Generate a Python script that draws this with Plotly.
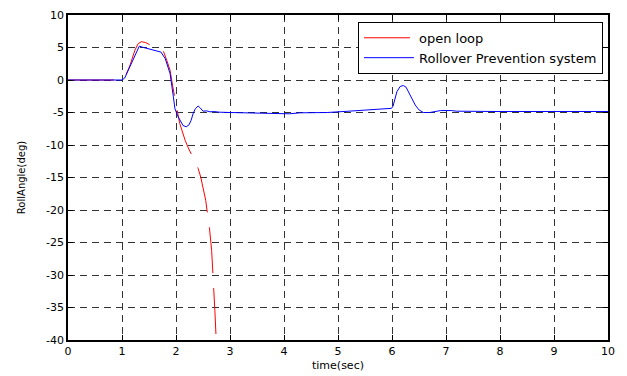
import plotly.graph_objects as go

# Open loop (red)
open_t = [0, 1.0, 1.05, 1.15, 1.24, 1.30, 1.36, 1.44, 1.52, 1.60, 1.70, 1.77, 1.83, 1.89, 1.94,
          1.98, 2.03, 2.07, 2.12, 2.17, 2.22, 2.28, 2.35, 2.41, 2.46, 2.51, 2.55, 2.58, 2.62,
          2.66, 2.69, 2.70, 2.72, 2.74]
open_y = [0, 0, 0.3, 2.3, 4.6, 5.6, 5.9, 5.75, 5.4, 5.1, 4.7, 4.36, 3.0, 1.5, -1.0,
          -3.1, -5.0, -6.7, -8.2, -9.3, -10.3, -11.4, -12.5, -13.6, -15.0, -16.9, -18.5, -20.4, -22.8,
          -26.2, -30.0, -32.3, -35.5, -39.2]

# Rollover prevention system (blue)
rps_t = [0, 1.0, 1.05, 1.18, 1.25, 1.32, 1.40, 1.46, 1.55, 1.67, 1.72, 1.80, 1.89, 1.95, 1.98,
         2.03, 2.07, 2.13, 2.19, 2.24, 2.28, 2.32, 2.36, 2.41, 2.45, 2.50, 2.57, 2.63, 2.70, 2.80,
         3.0, 3.5, 3.9, 4.1, 4.3, 4.8, 5.2, 5.5, 5.99, 6.02, 6.09, 6.15, 6.21, 6.26, 6.30, 6.37,
         6.43, 6.50, 6.58, 6.70, 6.80, 6.90, 7.10, 7.20, 8.0, 10.0]
rps_y = [0, 0, 0.3, 2.6, 4.0, 5.2, 5.0, 4.87, 4.7, 4.5, 4.3, 3.3, 1.0, -2.5, -4.4,
         -5.5, -6.2, -7.0, -7.2, -6.9, -6.2, -5.1, -4.4, -4.0, -4.3, -4.8, -4.75, -4.9, -4.85, -4.95,
         -5.0, -5.05, -5.2, -5.2, -5.05, -5.0, -4.8, -4.6, -4.36, -4.0, -1.8, -1.0, -0.85, -1.1, -1.8, -3.0,
         -3.85, -4.6, -5.0, -5.0, -4.85, -4.7, -4.7, -4.8, -4.85, -4.85]

x_ticks = list(range(0, 11))
y_ticks = list(range(-40, 11, 5))

FONT = "DejaVu Sans, Arial, sans-serif"

fig = go.Figure()
fig.add_trace(go.Scatter(x=open_t, y=open_y, mode="lines", name="open loop",
                         line=dict(color="#ff0000", width=1, dash="46px,15px")))
fig.add_trace(go.Scatter(x=rps_t, y=rps_y, mode="lines", name="Rollover Prevention system",
                         line=dict(color="#0000ff", width=1)))

axis_common = dict(
    showline=True, linecolor="black", linewidth=1.5, mirror="allticks",
    ticks="inside", ticklen=5, tickcolor="black", tickwidth=1,
    showgrid=True, gridcolor="#333333", gridwidth=1, griddash="7px,5px",
    zeroline=False, automargin=False,
    tickfont=dict(family=FONT, size=11, color="black"),
)

fig.update_xaxes(range=[0, 10], tickvals=x_ticks, ticktext=[str(v) for v in x_ticks],
                 title=dict(text="time(sec)", font=dict(family=FONT, size=11, color="black"), standoff=4),
                 **axis_common)
fig.update_yaxes(range=[-40, 10], tickvals=y_ticks, ticktext=[str(v) for v in y_ticks],
                 title=dict(text="RollAngle(deg)", font=dict(family=FONT, size=10, color="black"), standoff=19),
                 **axis_common)

# page body has an 8px margin, so the figure is 8px smaller and margins shifted
fig.update_layout(
    width=619, height=368,
    margin=dict(l=60, r=19, t=7, b=36),
    paper_bgcolor="white", plot_bgcolor="white",
    font=dict(family=FONT, size=11, color="black"),
    legend=dict(x=0.9907, y=0.979, xanchor="right", yanchor="top",
                bgcolor="white", bordercolor="black", borderwidth=1,
                font=dict(family=FONT, size=13, color="black"),
                tracegroupgap=0, itemwidth=50),
    showlegend=True,
)

fig.write_html("out.html")
